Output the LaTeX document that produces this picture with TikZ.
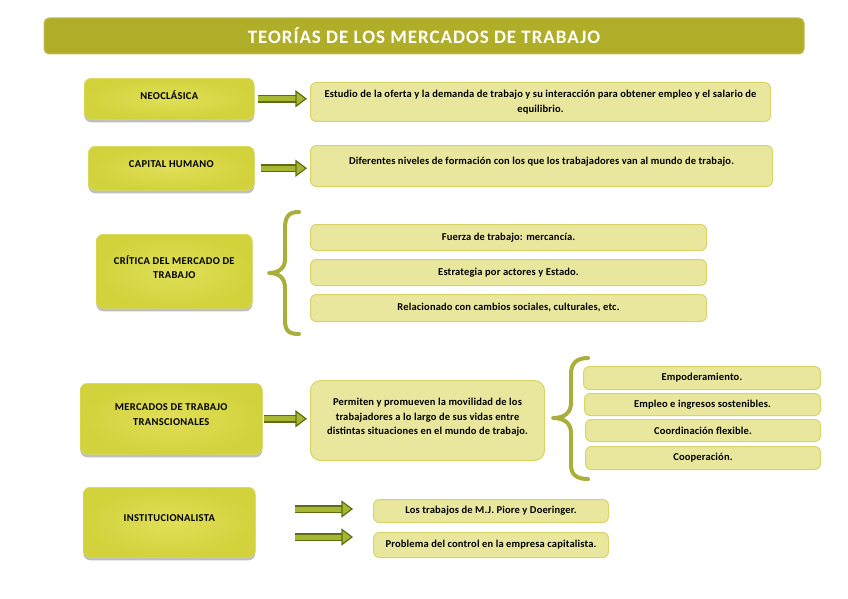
\documentclass[tikz,border=0pt]{standalone}
\usepackage{fontspec}
\setmainfont{Carlito}
\usetikzlibrary{shadows,calc}
\definecolor{titlebg}{HTML}{B0AE29}
\definecolor{darkbox}{HTML}{D2D23C}
\definecolor{darkboxin}{HTML}{E0DF58}
\definecolor{lightbox}{HTML}{E9E79D}
\definecolor{lightedge}{HTML}{D8D468}
\definecolor{arrout}{HTML}{5F6D12}
\definecolor{arrfill}{HTML}{A8B733}
\definecolor{bracec}{HTML}{A9AF3A}
\newcommand\blockarrow[2]{%
  \draw[arrout, line width=1.4pt, double=arrfill, double distance=5pt] (#1) -- ($(#2)+(-9,0)$);
  \draw[arrout, line width=1.2pt, fill=arrfill, line join=miter] (#2) -- ++(-10,-7.5) -- ++(0,15) -- cycle;
}
\begin{document}
\begin{tikzpicture}[x=1pt,y=-1pt,
  mainbox/.style={rounded corners=7pt, inner color=darkboxin, outer color=darkbox,
    draw=darkbox!85!white, line width=0.6pt,
    drop shadow={shadow xshift=0pt, shadow yshift=-3pt, opacity=0.45, fill=black!55},
    anchor=north west, align=center, inner sep=2pt,
    font=\bfseries\fontsize{10.5}{14.5}\selectfont\addfontfeature{LetterSpace=3}, text depth=8pt},
  descbox/.style={rounded corners=6pt, fill=lightbox, draw=lightedge, line width=1pt,
    anchor=north west, align=center, inner sep=2pt,
    font=\bfseries\fontsize{10.5}{14.3}\selectfont\addfontfeature{LetterSpace=1.5}},
  bracestyle/.style={draw=bracec, line width=4pt, line cap=round, line join=round}]
\path[use as bounding box, fill=white] (0,0) rectangle (848,599);

% title
\node[rounded corners=5pt, fill=titlebg, draw=titlebg!80!white, line width=1pt,
  minimum width=760pt, minimum height=36pt, text=white,
  font=\bfseries\fontsize{19}{21}\selectfont\addfontfeature{LetterSpace=5}] (title) at (424,36) {TEORÍAS DE LOS MERCADOS DE TRABAJO};

% left boxes
\node[mainbox, minimum width=170pt, minimum height=41pt] (neo) at (84,78) {NEOCLÁSICA};
\node[mainbox, minimum width=166pt, minimum height=44pt] (cap) at (88,146) {CAPITAL HUMANO};
\node[mainbox, minimum width=156pt, minimum height=74pt] (crit) at (96,234) {CRÍTICA DEL MERCADO DE\\TRABAJO};
\node[mainbox, minimum width=182pt, minimum height=71pt] (merc) at (80,383) {MERCADOS DE TRABAJO\\TRANSCIONALES};
\node[mainbox, minimum width=172pt, minimum height=70pt] (inst) at (83,487) {INSTITUCIONALISTA};

% description boxes
\node[descbox, minimum width=460pt, minimum height=39pt] (neodesc) at (310,82)
  {Estudio de la oferta y la demanda de trabajo y su interacción para obtener empleo y el salario de\\equilibrio.};
\node[descbox, minimum width=462pt, minimum height=41pt] (capdesc) at (310,145)
  {\raisebox{4pt}[\height][\depth]{Diferentes niveles de formación con los que los trabajadores van al mundo de trabajo.}};

\node[descbox, minimum width=396pt, minimum height=26pt] (c1) at (310,224) {Fuerza de trabajo: mercancía.};
\node[descbox, minimum width=396pt, minimum height=26pt] (c2) at (310,259) {Estrategia por actores y Estado.};
\node[descbox, minimum width=396pt, minimum height=27pt] (c3) at (310,294) {Relacionado con cambios sociales, culturales, etc.};

\node[descbox, rounded corners=10pt, minimum width=234pt, minimum height=80pt, text depth=8pt] (perm) at (310,380)
  {Permiten y promueven la movilidad de los\\trabajadores a lo largo de sus vidas entre\\distintas situaciones en el mundo de trabajo.};

\node[descbox, minimum width=237pt, minimum height=23pt] (m1) at (583,366) {Empoderamiento.};
\node[descbox, minimum width=236pt, minimum height=22pt] (m2) at (584,393) {Empleo e ingresos sostenibles.};
\node[descbox, minimum width=235pt, minimum height=22pt] (m3) at (585,419) {Coordinación flexible.};
\node[descbox, minimum width=235pt, minimum height=23pt] (m4) at (585,446) {Cooperación.};

\node[descbox, minimum width=235pt, minimum height=23pt] (i1) at (373,499) {Los trabajos de M.J. Piore y Doeringer.};
\node[descbox, minimum width=235pt, minimum height=25pt] (i2) at (373,532) {Problema del control en la empresa capitalista.};

% arrows
\coordinate (a1s) at ([xshift=3pt]neo.east);
\coordinate (a1e) at ([xshift=-4pt]neodesc.west |- neo.east);
\blockarrow{a1s}{a1e}
\coordinate (a2s) at ([xshift=6pt]cap.east);
\coordinate (a2e) at ([xshift=-4pt]capdesc.west |- cap.east);
\blockarrow{a2s}{a2e}
\coordinate (a3s) at ([xshift=1pt]merc.east);
\coordinate (a3e) at ([xshift=-4pt]perm.west |- merc.east);
\blockarrow{a3s}{a3e}
\coordinate (a4s) at (295,509);
\coordinate (a4e) at ([xshift=-21pt]i1.west |- a4s);
\blockarrow{a4s}{a4e}
\coordinate (a5s) at (295,537);
\coordinate (a5e) at ([xshift=-21pt]i2.west |- a5s);
\blockarrow{a5s}{a5e}

% braces
\draw[bracestyle] (299,212) .. controls (288,212) and (285,217) .. (285,229) -- (285,259)
  .. controls (285,268) and (279,273) .. (269,273)
  .. controls (279,273) and (285,278) .. (285,288) -- (285,320)
  .. controls (285,330) and (288,334) .. (299,334);
\draw[bracestyle] (588,358) .. controls (577,358) and (571,363) .. (571,374) -- (571,403)
  .. controls (571,413) and (564,418) .. (553,418)
  .. controls (564,418) and (571,423) .. (571,433) -- (571,465)
  .. controls (571,475) and (577,479) .. (588,479);
\end{tikzpicture}
\end{document}
